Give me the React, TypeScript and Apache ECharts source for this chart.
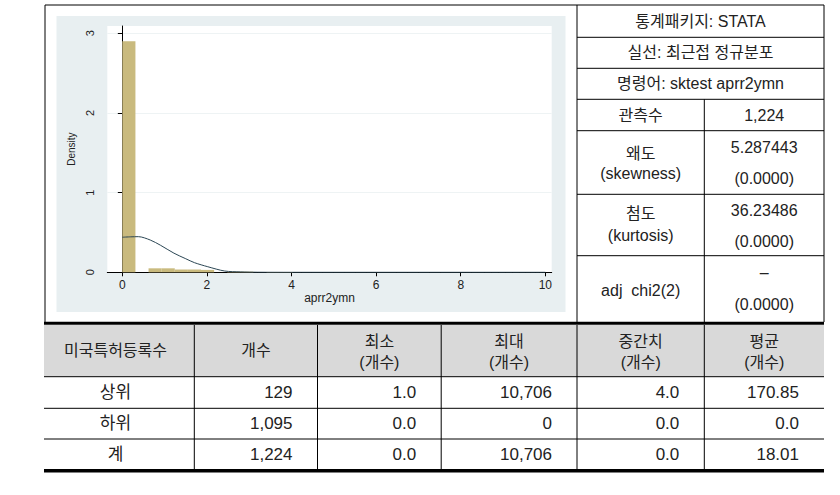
import React, { useEffect, useRef } from "react";
import * as echarts from "echarts";

// ---- histogram data (density) ----
const binStart = [0, 0.62, 0.93, 1.24, 1.55, 1.86, 2.48, 2.79, 3.41, 3.72];
const binEnd = [0.31, 0.93, 1.24, 1.55, 1.86, 2.17, 2.79, 3.1, 3.72, 4.03];
const binDensity = [2.9, 0.05, 0.05, 0.035, 0.035, 0.03, 0.008, 0.008, 0.004, 0.004];

// ---- normal density overlay ----
const curveX = [0, 0.2, 0.38, 0.66, 0.9, 1.22, 1.5, 1.71, 2.02, 2.42, 2.8, 3.2, 4, 6, 8, 10];
const curveY = [0.44, 0.445, 0.447, 0.405, 0.34, 0.24, 0.17, 0.12, 0.07, 0.016, 0.005, 0.001, 0, 0, 0, 0];

// ---- axis ticks ----
const xTicks = [0, 2, 4, 6, 8, 10];
const yTicks = [0, 1, 2, 3];
const xTitle = "aprr2ymn";
const yTitle = "Density";

// ---- stats box ----
const statTitle = ["통계패키지: STATA", "실선: 최근접 정규분포", "명령어: sktest aprr2ymn"];
const statNames = ["관측수", "왜도", "(skewness)", "첨도", "(kurtosis)", "adj\u00a0 chi2(2)"];
const statValues = ["1,224", "5.287443", "(0.0000)", "36.23486", "(0.0000)", "–", "(0.0000)"];

// ---- summary table ----
const headFirst = ["미국특허등록수", "개수"];
const headTop = ["최소", "최대", "중간치", "평균"];
const headSub = ["(개수)", "(개수)", "(개수)", "(개수)"];
const rowNames = ["상위", "하위", "계"];
const colCount = ["129", "1,095", "1,224"];
const colMin = ["1.0", "0.0", "0.0"];
const colMax = ["10,706", "0", "10,706"];
const colMedian = ["4.0", "0.0", "0.0"];
const colMean = ["170.85", "0.0", "18.01"];

const KR = '"Liberation Sans", Arial, "Noto Sans CJK KR", sans-serif';
const TXT = "#222";

export default function App() {
  const ref = useRef<HTMLDivElement>(null);
  useEffect(() => {
    if (!ref.current) return;
    const chart = echarts.init(ref.current, null, { renderer: "svg" });
    const g: any[] = [];
    const line = (x1: number, y1: number, x2: number, y2: number, w = 1) =>
      g.push({ type: "line", z: 10, shape: { x1, y1, x2, y2 }, style: { stroke: "#000", lineWidth: w } });
    const text = (t: string, x: number, y: number, size: number, align = "center") =>
      g.push({
        type: "text", z: 11, x, y,
        style: { text: t, fill: TXT, font: `${size}px ${KR}`, textAlign: align, textVerticalAlign: "middle" },
      });

    // chart panel background
    g.push({ type: "rect", z: -10, shape: { x: 56.5, y: 16, width: 509, height: 296 }, style: { fill: "#E8EFF1" } });
    // header background of summary table
    g.push({ type: "rect", z: 1, shape: { x: 44, y: 325, width: 780, height: 51.5 }, style: { fill: "#D9D9D9" } });

    // upper frame
    line(45, 5, 824, 5);
    line(45, 5, 45, 322);
    line(824, 5, 824, 322);
    line(577, 5, 577, 322);
    [37.3, 68.3, 99.3, 130.7, 194.3, 255.7].forEach((y) => line(577, y, 824, y));
    line(704.3, 99.3, 704.3, 322);
    // thick lines
    line(44, 323.3, 824, 323.3, 3);
    line(44, 470.7, 824, 470.7, 3.5);
    // summary table grid
    [376.7, 408.3, 439].forEach((y) => line(44, y, 824, y));
    [194.3, 317.5, 441.2, 577, 704.3].forEach((x) => line(x, 325, x, 469));

    // stats texts
    text(statTitle[0], 700.5, 21.5, 16);
    text(statTitle[1], 700.5, 52.5, 16);
    text(statTitle[2], 700.5, 83.5, 16);
    const cA = 640.7, cB = 764.2;
    text(statNames[0], cA, 115, 16);
    text(statNames[1], cA, 153, 16);
    text(statNames[2], cA, 173.5, 16);
    text(statNames[3], cA, 213.5, 16);
    text(statNames[4], cA, 235, 16);
    text(statNames[5], cA, 290, 16);
    text(statValues[0], cB, 115, 16);
    text(statValues[1], cB, 147, 16);
    text(statValues[2], cB, 178.5, 16);
    text(statValues[3], cB, 210, 16);
    text(statValues[4], cB, 241, 16);
    text(statValues[5], cB, 272, 16);
    text(statValues[6], cB, 304, 16);

    // summary table texts
    const centers = [115.5, 256, 379.4, 509, 640.7, 764.2];
    const rights = [292.5, 416.2, 552, 679.3, 799];
    text(headFirst[0], centers[0], 350, 16);
    text(headFirst[1], centers[1], 350, 16);
    headTop.forEach((t, i) => {
      text(t, centers[i + 2], 341, 16);
      text(headSub[i], centers[i + 2], 362, 16);
    });
    const rowY = [392.5, 423.7, 454];
    const cols = [colCount, colMin, colMax, colMedian, colMean];
    rowNames.forEach((n, r) => {
      text(n, centers[0], rowY[r], 17);
      cols.forEach((c, k) => text(c[r], rights[k], rowY[r], 17, "right"));
    });

    chart.setOption({
      animation: false,
      backgroundColor: "#fff",
      grid: {
        left: 107.3, top: 26, width: 444.4, height: 246.3,
        show: true, backgroundColor: "#fff", borderWidth: 0, z: 0,
      },
      xAxis: {
        type: "value", min: -0.355, max: 10.15,
        name: xTitle, nameLocation: "middle", nameGap: 13,
        nameTextStyle: { fontSize: 12, color: "#222", fontFamily: "Liberation Sans, Arial, sans-serif" },
        axisLine: { show: true, onZero: false, lineStyle: { color: "#000", width: 1 } },
        axisTick: { show: true, length: 4, lineStyle: { color: "#000" }, customValues: xTicks },
        axisLabel: { fontSize: 12, color: "#222", margin: 7, fontFamily: "Liberation Sans, Arial, sans-serif", customValues: xTicks },
        splitLine: { show: false },
      },
      yAxis: {
        type: "value", min: 0, max: 3.09,
        name: yTitle, nameLocation: "middle", nameGap: 25, nameRotate: 90,
        nameTextStyle: { fontSize: 10, color: "#222", fontFamily: "Liberation Sans, Arial, sans-serif" },
        axisLine: { show: true, lineStyle: { color: "#000", width: 1 } },
        axisTick: { show: true, length: 4.5, lineStyle: { color: "#000" }, customValues: yTicks },
        axisLabel: { fontSize: 11, color: "#222", rotate: 90, margin: 12, fontFamily: "Liberation Sans, Arial, sans-serif", customValues: yTicks },
        splitLine: { show: true, lineStyle: { color: "#EEF3F4", width: 1 } },
      },
      graphic: { elements: g },
      series: [
        {
          type: "custom",
          z: 2,
          data: binStart.map((s, i) => [s, binEnd[i], binDensity[i]]),
          encode: { x: [0, 1], y: 2 },
          renderItem: (_p: any, api: any) => {
            const a = api.coord([api.value(0), api.value(2)]);
            const b = api.coord([api.value(1), 0]);
            return {
              type: "rect",
              shape: { x: a[0], y: a[1], width: b[0] - a[0], height: b[1] - a[1] },
              style: { fill: "#C9BA7E" },
            };
          },
        },
        {
          type: "line",
          z: 3,
          data: curveX.map((x, i) => [x, curveY[i]]),
          smooth: 0.3,
          symbol: "none",
          lineStyle: { color: "#2B4654", width: 1 },
        },
      ],
    });
    return () => chart.dispose();
  }, []);
  return (
    <div
      ref={ref}
      style={{ position: "absolute", left: 0, top: 0, width: 840, height: 495, background: "#fff" }}
    />
  );
}
